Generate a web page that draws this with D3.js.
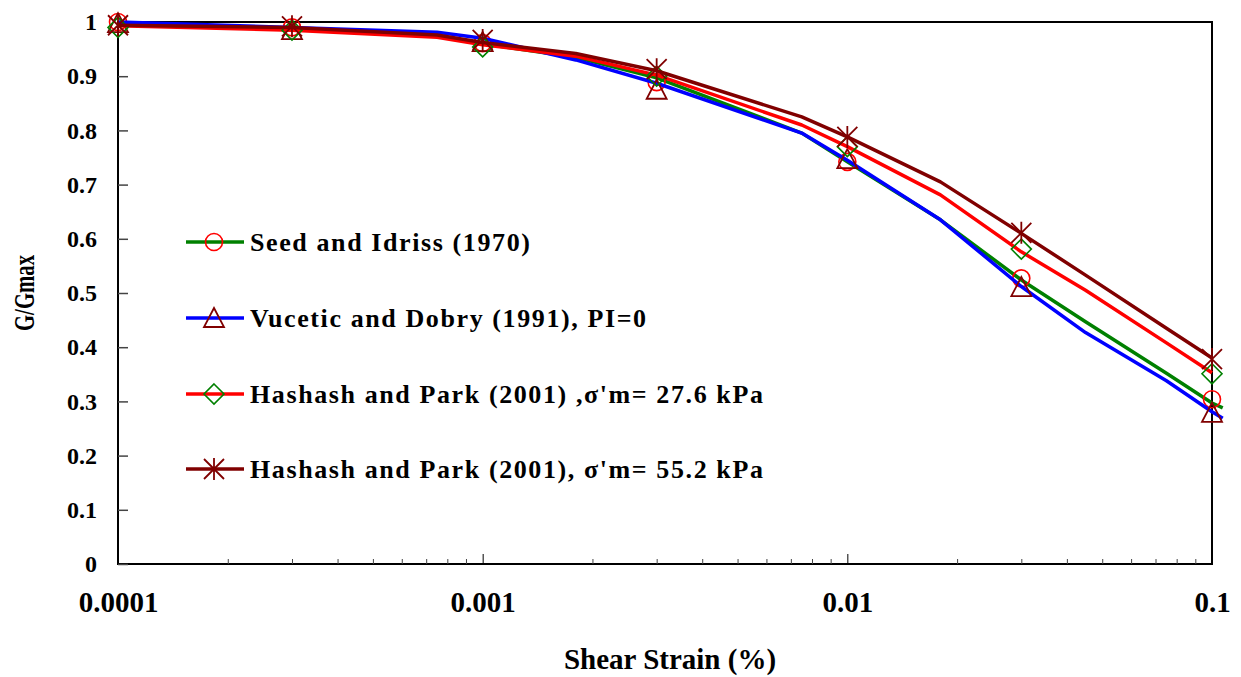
<!DOCTYPE html>
<html>
<head>
<meta charset="utf-8">
<script src="https://cdn.jsdelivr.net/npm/d3@7/dist/d3.min.js"></script>
<style>
  html, body { margin: 0; padding: 0; background: #fff; }
  svg { display: block; }
  text { font-family: "Times New Roman", "Liberation Serif", serif; font-weight: bold; fill: #000; }
</style>
</head>
<body>
<svg id="chart" width="1241" height="677"></svg>
<script>
// ---------------- DATA ----------------
const lineStrains = [0.0001, 0.0003, 0.00075, 0.001, 0.0018, 0.003, 0.0075, 0.01, 0.018, 0.03, 0.045, 0.075, 0.1];
const seedIdrissLine   = [0.996, 0.988, 0.975, 0.960, 0.935, 0.897, 0.795, 0.742, 0.635, 0.524, 0.447, 0.352, 0.297];
const vuceticDobryLine = [1.000, 0.990, 0.981, 0.970, 0.930, 0.887, 0.795, 0.745, 0.635, 0.512, 0.427, 0.338, 0.281];
const hashash276Line   = [0.993, 0.985, 0.972, 0.958, 0.937, 0.902, 0.810, 0.770, 0.681, 0.576, 0.505, 0.408, 0.353];
const hashash552Line   = [0.994, 0.990, 0.976, 0.962, 0.942, 0.910, 0.825, 0.788, 0.705, 0.610, 0.533, 0.435, 0.380];
// small overshoot of two curves past the right edge
const overshootStrain = 0.107;
const seedIdrissOvershoot = 0.288;
const vuceticDobryOvershoot = 0.269;

const markerStrains = [0.0001, 0.0003, 0.001, 0.003, 0.01, 0.03, 0.1];
const seedIdrissPts   = [1.000, 0.990, 0.961, 0.889, 0.742, 0.527, 0.304];
const vuceticDobryPts = [0.998, 0.985, 0.963, 0.875, 0.747, 0.511, 0.279];
const hashash276Pts   = [0.990, 0.985, 0.954, 0.900, 0.770, 0.581, 0.351];
const hashash552Pts   = [0.994, 0.992, 0.967, 0.913, 0.788, 0.611, 0.378];

const seriesNames = [
  "Seed and Idriss (1970)",
  "Vucetic and Dobry (1991), PI=0",
  "Hashash and Park (2001) ,\u03c3'm= 27.6 kPa",
  "Hashash and Park (2001), \u03c3'm= 55.2 kPa"
];
const lineColors   = ["#008000", "#0000FF", "#FF0000", "#800000"];
const markerColors = ["#FF0000", "#800000", "#008000", "#800000"];
const markerShapes = ["circle", "triangle", "diamond", "star"];

const xTickValues = [0.0001, 0.001, 0.01, 0.1];
const xTickLabels = ["0.0001", "0.001", "0.01", "0.1"];
const yTickValues = [0, 0.1, 0.2, 0.3, 0.4, 0.5, 0.6, 0.7, 0.8, 0.9, 1];
const yTickLabels = ["0", "0.1", "0.2", "0.3", "0.4", "0.5", "0.6", "0.7", "0.8", "0.9", "1"];
const xTitle = "Shear Strain (%)";
const yTitle = "G/Gmax";

// ---------------- LAYOUT ----------------
const L = 118, R = 1212, T = 22, B = 564;
const svg = d3.select("#chart");
const x = d3.scaleLog().domain([0.0001, 0.1]).range([L, R]);
const y = d3.scaleLinear().domain([0, 1]).range([B, T]);

const lines = [
  { xs: lineStrains.concat([overshootStrain]), ys: seedIdrissLine.concat([seedIdrissOvershoot]), pts: seedIdrissPts },
  { xs: lineStrains.concat([overshootStrain]), ys: vuceticDobryLine.concat([vuceticDobryOvershoot]), pts: vuceticDobryPts },
  { xs: lineStrains, ys: hashash276Line, pts: hashash276Pts },
  { xs: lineStrains, ys: hashash552Line, pts: hashash552Pts }
];

// frame
svg.append("rect").attr("x", L).attr("y", T).attr("width", R - L).attr("height", B - T)
  .attr("fill", "none").attr("stroke", "#000").attr("stroke-width", 2);

// x axis labels
const xAxisLabels = d3.axisBottom(x).tickValues(xTickValues)
  .tickFormat((d, i) => xTickLabels[i]).tickSize(0).tickPadding(27);
const gxl = svg.append("g").attr("transform", `translate(0,${B})`).call(xAxisLabels);
gxl.select(".domain").remove();
gxl.selectAll("text").style("font-size", "29px").attr("font-family", null);

// x major ticks (inward)
const gxt = svg.append("g").attr("transform", `translate(0,${B})`)
  .call(d3.axisTop(x).tickValues(xTickValues).tickFormat("").tickSize(10));
gxt.select(".domain").remove();
gxt.selectAll("line").attr("stroke", "#000").attr("stroke-width", 1);

// x minor ticks
const minor = [];
for (let e = -4; e < -1; e++) for (let m = 2; m <= 9; m++) minor.push(m * Math.pow(10, e));
const gxm = svg.append("g").attr("transform", `translate(0,${B})`)
  .call(d3.axisTop(x).tickValues(minor).tickFormat("").tickSize(5));
gxm.select(".domain").remove();
gxm.selectAll("line").attr("stroke", "#444").attr("stroke-width", 1);

// y axis labels
const gyl = svg.append("g").attr("transform", `translate(${L},0)`)
  .call(d3.axisLeft(y).tickValues(yTickValues).tickFormat((d, i) => yTickLabels[i]).tickSize(0).tickPadding(21));
gyl.select(".domain").remove();
gyl.selectAll("text").style("font-size", "24px").attr("font-family", null);

// y ticks inward
const gyt = svg.append("g").attr("transform", `translate(${L},0)`)
  .call(d3.axisRight(y).tickValues(yTickValues).tickFormat("").tickSize(10));
gyt.select(".domain").remove();
gyt.selectAll("line").attr("stroke", "#444").attr("stroke-width", 1.5);

// titles
svg.append("text").attr("x", 670).attr("y", 659).attr("text-anchor", "middle")
  .attr("dy", "0.35em").style("font-size", "29px").text(xTitle);
svg.append("text").attr("transform", "translate(23,293) rotate(-90)").attr("text-anchor", "middle")
  .attr("dy", "0.35em").style("font-size", "30px")
  .attr("textLength", 76).attr("lengthAdjust", "spacingAndGlyphs").text(yTitle);

// marker drawing
function drawMarker(g, shape, color, cx, cy) {
  if (shape === "circle") {
    g.append("circle").attr("cx", cx).attr("cy", cy).attr("r", 8.5)
      .attr("fill", "none").attr("stroke", color).attr("stroke-width", 1.6);
  } else if (shape === "triangle") {
    const s = 10;
    g.append("path").attr("d", `M${cx},${cy - s}L${cx + s},${cy + s * 0.9}L${cx - s},${cy + s * 0.9}Z`)
      .attr("fill", "none").attr("stroke", color).attr("stroke-width", 1.8);
  } else if (shape === "diamond") {
    const s = 10;
    g.append("path").attr("d", `M${cx},${cy - s}L${cx + s},${cy}L${cx},${cy + s}L${cx - s},${cy}Z`)
      .attr("fill", "none").attr("stroke", color).attr("stroke-width", 1.6);
  } else if (shape === "star") {
    const s = 10;
    g.append("path").attr("d",
      `M${cx - s},${cy - s}L${cx + s},${cy + s}M${cx - s},${cy + s}L${cx + s},${cy - s}M${cx},${cy - s - 1}L${cx},${cy + s + 1}`)
      .attr("fill", "none").attr("stroke", color).attr("stroke-width", 1.8);
  }
}

const lineGen = d3.line().x(d => x(d[0])).y(d => y(d[1]));
const plot = svg.append("g");
lines.forEach((s, i) => {
  const data = s.xs.map((v, k) => [v, s.ys[k]]);
  plot.append("path").datum(data).attr("d", lineGen)
    .attr("fill", "none").attr("stroke", lineColors[i]).attr("stroke-width", 3.5)
    .attr("stroke-linejoin", "round");
  const mg = plot.append("g");
  markerStrains.forEach((v, k) => drawMarker(mg, markerShapes[i], markerColors[i], x(v), y(s.pts[k])));
});

// legend
const legendY = [242, 318, 394, 469];
const lg = svg.append("g");
seriesNames.forEach((name, i) => {
  lg.append("line").attr("x1", 186).attr("x2", 244).attr("y1", legendY[i]).attr("y2", legendY[i])
    .attr("stroke", lineColors[i]).attr("stroke-width", 3.5);
  drawMarker(lg, markerShapes[i], markerColors[i], 214, legendY[i]);
  lg.append("text").attr("x", 250).attr("y", legendY[i]).attr("dy", "0.35em")
    .style("font-size", "26px").style("letter-spacing", "1.6px").text(name);
});
</script>
</body>
</html>
